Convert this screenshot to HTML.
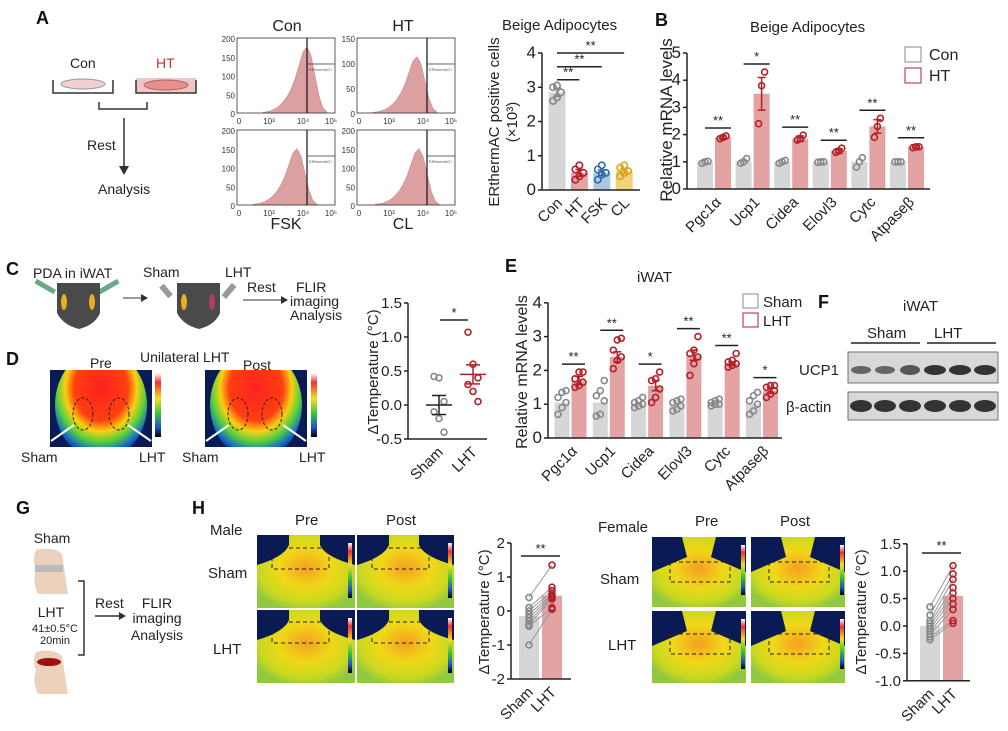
<!DOCTYPE html>
<html><head><meta charset="utf-8"><style>
html,body{margin:0;padding:0;background:#fff}
svg{display:block;font-family:"Liberation Sans",Arial,sans-serif}
</style></head><body>
<svg id="fig" width="1008" height="731" viewBox="0 0 1008 731" xmlns="http://www.w3.org/2000/svg">
<defs>
<radialGradient id="thermD" cx="50%" cy="35%" r="65%">
<stop offset="0" stop-color="#ff2020"/><stop offset="0.45" stop-color="#ff4010"/><stop offset="0.6" stop-color="#f8d010"/><stop offset="0.75" stop-color="#50d040"/><stop offset="0.9" stop-color="#1060d0"/><stop offset="1" stop-color="#0a1a55"/></radialGradient>
<linearGradient id="cbar" x1="0" y1="0" x2="0" y2="1">
<stop offset="0" stop-color="#fff"/><stop offset="0.15" stop-color="#f03030"/><stop offset="0.4" stop-color="#f0e020"/><stop offset="0.65" stop-color="#30c040"/><stop offset="0.85" stop-color="#2050d0"/><stop offset="1" stop-color="#000"/></linearGradient>
<radialGradient id="thermH" cx="50%" cy="45%" r="60%">
<stop offset="0" stop-color="#f5a020"/><stop offset="0.45" stop-color="#f0d818"/><stop offset="0.8" stop-color="#c8d820"/><stop offset="1" stop-color="#90c840"/></radialGradient>
<clipPath id="clipD1"><rect x="50" y="370" width="102" height="77"/></clipPath>
<clipPath id="clipD2"><rect x="205" y="370" width="102" height="77"/></clipPath>
</defs>
<g font-weight="bold" font-size="18" fill="#111">
<text x="36" y="24">A</text><text x="655" y="26">B</text><text x="6" y="275">C</text><text x="6" y="365">D</text>
<text x="505" y="272">E</text><text x="818" y="308">F</text><text x="16" y="514">G</text><text x="192" y="514">H</text></g>

<!-- Panel A scheme -->
<g font-size="14" fill="#222">
<text x="70" y="68">Con</text><text x="156" y="68" fill="#c0392b">HT</text>
<path d="M53 80 v13 h60 v-13" fill="none" stroke="#333" stroke-width="1.5"/><ellipse cx="83" cy="84" rx="22" ry="5" fill="#f2d0d0" stroke="#999"/>
<rect x="136" y="78" width="60" height="15" fill="#f4c4c4"/><path d="M136 80 v13 h60 v-13" fill="none" stroke="#333" stroke-width="1.5"/><ellipse cx="166" cy="85" rx="22" ry="5" fill="#e89090" stroke="#a66"/>
<path d="M99 102 v7 h48 v-7" fill="none" stroke="#333" stroke-width="1.5"/>
<line x1="124" y1="118" x2="124" y2="170" stroke="#333" stroke-width="1.5"/><path d="M119 166 l5 9 l5 -9z" fill="#333"/>
<text x="87" y="150">Rest</text><text x="98" y="194">Analysis</text></g>

<g id="flow"></g>
<g id="chartA"></g>
<g id="chartB"></g>

<!-- Panel C scheme -->
<g font-size="14" fill="#222">
<text x="33" y="278">PDA in iWAT</text>
<rect x="34" y="284" width="22" height="5" fill="#6a8" transform="rotate(30 45 287)"/>
<rect x="98" y="284" width="22" height="5" fill="#6a8" transform="rotate(-30 109 287)"/>
<path d="M57 283 h43 v30 q-5 12 -21 16 q-16 -4 -22 -16z" fill="#4a4a4a"/><ellipse cx="64" cy="302" rx="3" ry="8" fill="#e8b020"/><ellipse cx="92" cy="302" rx="3" ry="8" fill="#e8b020"/>
<line x1="123" y1="298" x2="143" y2="298" stroke="#333"/><path d="M141 294 l7 4 l-7 4z" fill="#333"/>
<text x="143" y="277">Sham</text><text x="225" y="277">LHT</text>
<rect x="163" y="284" width="6" height="14" fill="#999" transform="rotate(-40 166 291)"/>
<path d="M177 283 h43 v30 q-5 12 -21 16 q-16 -4 -22 -16z" fill="#4a4a4a"/><ellipse cx="184" cy="302" rx="3" ry="8" fill="#e8b020"/><ellipse cx="212" cy="302" rx="3" ry="8" fill="#b04060"/>
<rect x="226" y="283" width="6" height="16" fill="#999" transform="rotate(40 229 291)"/>
<line x1="243" y1="300" x2="283" y2="300" stroke="#333"/><path d="M281 296 l7 4 l-7 4z" fill="#333"/>
<text x="247" y="292">Rest</text><text x="296" y="292">FLIR</text><text x="290" y="306">imaging</text><text x="290" y="320">Analysis</text></g>

<!-- Panel D -->
<g font-size="14" fill="#222">
<text x="90" y="368">Pre</text><text x="140" y="362">Unilateral LHT</text><text x="243" y="370">Post</text>
<rect x="50" y="370" width="102" height="77" fill="#0a1a55"/><ellipse cx="101" cy="405" rx="46" ry="55" fill="url(#thermD)" clip-path="url(#clipD1)"/>
<rect x="155" y="373" width="6" height="64" fill="url(#cbar)"/>
<rect x="205" y="370" width="102" height="77" fill="#0a1a55"/><ellipse cx="256" cy="405" rx="46" ry="55" fill="url(#thermD)" clip-path="url(#clipD2)"/>
<rect x="311" y="373" width="6" height="64" fill="url(#cbar)"/>
<ellipse cx="83" cy="414" rx="10" ry="16" fill="none" stroke="#222" stroke-dasharray="3 2"/><ellipse cx="119" cy="414" rx="10" ry="16" fill="none" stroke="#222" stroke-dasharray="3 2"/>
<ellipse cx="238" cy="414" rx="10" ry="16" fill="none" stroke="#222" stroke-dasharray="3 2"/><ellipse cx="272" cy="414" rx="10" ry="16" fill="none" stroke="#222" stroke-dasharray="3 2"/>
<g stroke="#fff" stroke-width="2"><line x1="51" y1="441" x2="74" y2="425"/><line x1="151" y1="441" x2="128" y2="425"/><line x1="206" y1="441" x2="229" y2="425"/><line x1="306" y1="441" x2="283" y2="425"/></g>
<text x="21" y="462">Sham</text><text x="139" y="462">LHT</text><text x="182" y="462">Sham</text><text x="299" y="462">LHT</text></g>

<g id="chartC"></g>
<g id="chartE"></g>

<!-- Panel F -->
<g font-size="15" fill="#222">
<text x="903" y="311">iWAT</text><text x="867" y="338">Sham</text><text x="934" y="338">LHT</text>
<line x1="851" y1="343" x2="920" y2="343" stroke="#222" stroke-width="1.5"/><line x1="927" y1="343" x2="996" y2="343" stroke="#222" stroke-width="1.5"/>
<text x="799" y="375">UCP1</text><text x="786" y="412">β-actin</text>
<rect x="848" y="352" width="150" height="31" fill="#d8d8d8" stroke="#555" stroke-width="0.8"/><rect x="848" y="392" width="150" height="28" fill="#d8d8d8" stroke="#555" stroke-width="0.8"/>
<g fill="#333"><ellipse cx="861" cy="370" rx="10" ry="4" fill="#666"/><ellipse cx="885" cy="370" rx="10" ry="4" fill="#666"/><ellipse cx="910" cy="370" rx="10" ry="5" fill="#555"/>
<ellipse cx="935" cy="370" rx="11" ry="5"/><ellipse cx="960" cy="370" rx="11" ry="5"/><ellipse cx="985" cy="370" rx="11" ry="5"/>
<ellipse cx="861" cy="406" rx="11" ry="6"/><ellipse cx="885" cy="406" rx="11" ry="6"/><ellipse cx="910" cy="406" rx="11" ry="6"/><ellipse cx="935" cy="406" rx="11" ry="6"/><ellipse cx="960" cy="406" rx="11" ry="6"/><ellipse cx="985" cy="406" rx="11" ry="6"/></g></g>

<!-- Panel G -->
<g font-size="14" fill="#222">
<text x="52" y="543" text-anchor="middle">Sham</text>
<path d="M36 550 q18 -4 26 4 l6 40 h-30 q-6 -12 -2 -24 q-4 -10 0 -20z" fill="#ecd2bc"/><rect x="35" y="565" width="28" height="7" fill="#bbb"/>
<text x="51" y="617" text-anchor="middle">LHT</text><text x="55" y="632" font-size="11" text-anchor="middle">41±0.5°C</text><text x="55" y="644" font-size="11" text-anchor="middle">20min</text>
<path d="M36 652 q18 -4 26 4 l6 38 h-30 q-6 -12 -2 -24 q-4 -10 0 -18z" fill="#ecd2bc"/><ellipse cx="49" cy="662" rx="12" ry="4" fill="#a01010"/>
<path d="M78 581 h6 v74 h-6" fill="none" stroke="#333" stroke-width="1.5"/>
<line x1="95" y1="616" x2="121" y2="616" stroke="#333" stroke-width="1.5"/><path d="M119 612 l7 4 l-7 4z" fill="#333"/>
<text x="95" y="608">Rest</text><text x="157" y="608" text-anchor="middle">FLIR</text><text x="157" y="623" text-anchor="middle">imaging</text><text x="157" y="640" text-anchor="middle">Analysis</text></g>

<!-- Panel H images -->
<g font-size="15" fill="#222">
<text x="210" y="535">Male</text><text x="295" y="525">Pre</text><text x="386" y="525">Post</text>
<text x="208" y="578">Sham</text><text x="213" y="654">LHT</text>
<rect x="257" y="535" width="98" height="73" fill="url(#thermH)"/><rect x="357" y="535" width="97" height="73" fill="url(#thermH)"/>
<rect x="257" y="610" width="98" height="73" fill="url(#thermH)"/><rect x="357" y="610" width="97" height="73" fill="url(#thermH)"/>
<g fill="#0a1a55"><path d="M257 535 h32 v10 q-5 12 -32 20z"/><path d="M355 535 h-35 v10 q5 12 35 20z"/><path d="M357 535 h32 v10 q-5 12 -32 20z"/><path d="M454 535 h-35 v10 q5 12 35 20z"/>
<path d="M257 610 h32 v10 q-5 12 -32 20z"/><path d="M355 610 h-35 v10 q5 12 35 20z"/><path d="M357 610 h32 v10 q-5 12 -32 20z"/><path d="M454 610 h-35 v10 q5 12 35 20z"/></g>
<g fill="url(#cbar)"><rect x="348" y="543" width="4" height="55"/><rect x="448" y="543" width="4" height="55"/><rect x="348" y="618" width="4" height="55"/><rect x="448" y="618" width="4" height="55"/></g>
<text x="598" y="532">Female</text><text x="695" y="526">Pre</text><text x="780" y="526">Post</text>
<text x="600" y="584">Sham</text><text x="608" y="650">LHT</text>
<rect x="652" y="537" width="94" height="70" fill="url(#thermH)"/><rect x="751" y="537" width="94" height="70" fill="url(#thermH)"/>
<rect x="652" y="611" width="94" height="72" fill="url(#thermH)"/><rect x="751" y="611" width="94" height="72" fill="url(#thermH)"/>
<g fill="#0a1a55"><path d="M652 537 h30 l5 20 l-35 15z"/><path d="M746 537 h-30 l-5 20 l35 15z"/><path d="M751 537 h30 l5 20 l-35 15z"/><path d="M845 537 h-30 l-5 20 l35 15z"/>
<path d="M652 611 h30 l5 20 l-35 15z"/><path d="M746 611 h-30 l-5 20 l35 15z"/><path d="M751 611 h30 l5 20 l-35 15z"/><path d="M845 611 h-30 l-5 20 l35 15z"/></g>
<g fill="url(#cbar)"><rect x="741" y="545" width="4" height="50"/><rect x="840" y="545" width="4" height="50"/><rect x="741" y="619" width="4" height="50"/><rect x="840" y="619" width="4" height="50"/></g>
<g fill="none" stroke="#222" stroke-dasharray="4 3"><path d="M289 548 h40 v21 h-57 v-12"/><path d="M389 548 h40 v21 h-57 v-12"/>
<path d="M289 622 h40 v21 h-57 v-12"/><path d="M389 622 h40 v21 h-57 v-12"/>
<path d="M670 562 v20 h60 v-20 z"/><path d="M769 562 v20 h60 v-20 z"/><path d="M670 634 v20 h60 v-20 z"/><path d="M769 634 v20 h60 v-20 z"/></g></g>

<g id="chartHm"></g>
<g id="chartHf"></g>
</svg>
<script>
// ---- data ----
const flowCounts = [2,4,7,12,20,32,48,70,100,140,180,195,170,110,50,15,3];
const flowLabelsTop = ["Con","HT"];
const flowLabelsBottom = ["FSK","CL"];
const aCategories = ["Con","HT","FSK","CL"];
const aValues = [2.85,0.5,0.5,0.55];
const aErr = [0.12,0.1,0.08,0.07];
const aPoints = [[2.6,2.7,2.85,3.0,3.05],[0.3,0.4,0.5,0.6,0.72],[0.3,0.45,0.5,0.6,0.72],[0.4,0.5,0.55,0.65,0.72]];
const aTicks = [0,1,2,3,4];
const bGenes = ["Pgc1α","Ucp1","Cidea","Elovl3","Cytc","Atpaseβ"];
const bCon = [1,1,1,1,1,1];
const bHT = [1.9,3.5,1.85,1.4,2.3,1.55];
const bHTerr = [0.05,0.6,0.1,0.08,0.25,0.04];
const bConPts = [[0.95,1,1.02],[0.95,1,1.12],[0.95,1,1.05],[0.98,1,1],[0.8,1,1.15],[1,1,1]];
const bHTPts = [[1.85,1.9,1.95],[2.4,3.8,4.3],[1.8,1.85,1.98],[1.35,1.4,1.5],[1.9,2.3,2.6],[1.52,1.55,1.55]];
const bSig = ["**","*","**","**","**","**"];
const bTicks = [0,1,2,3,4,5];
const cSham = [0.42,0.4,0.05,-0.1,-0.2,-0.4];
const cLHT = [1.07,0.6,0.4,0.3,0.2,0.05];
const cMeans = [0.0,0.45];
const cErr = [0.14,0.14];
const cTicks = [-0.5,0,0.5,1,1.5];
const eGenes = ["Pgc1α","Ucp1","Cidea","Elovl3","Cytc","Atpaseβ"];
const eSham = [1.05,1.05,1.02,1.0,1.02,1.02];
const eLHT = [1.7,2.4,1.55,2.45,2.2,1.4];
const eLHTerr = [0.12,0.15,0.15,0.15,0.05,0.08];
const eShamPts = [[0.7,0.9,1.05,1.2,1.35,1.4],[0.65,0.7,1.1,1.25,1.4,1.7],[0.9,0.95,1.0,1.05,1.1,1.2],[0.8,0.85,0.95,1.05,1.1,1.15],[0.95,1,1,1.05,1.1,1.15],[0.7,0.8,1,1.1,1.25,1.35]];
const eLHTPts = [[1.5,1.55,1.65,1.75,1.95,1.95],[2.05,2.3,2.4,2.6,2.9,2.95],[1.05,1.2,1.45,1.7,1.75,1.95],[1.85,2.2,2.4,2.5,2.6,3.0],[2.1,2.15,2.2,2.25,2.3,2.5],[1.2,1.3,1.4,1.5,1.55,1.55]];
const eSig = ["**","**","*","**","**","*"];
const eTicks = [0,1,2,3,4];
const hmMeans = [-0.15,0.45];
const hmSham = [0.4,0.1,0.0,-0.1,-0.2,-0.3,-0.4,-0.45,-1.0];
const hmLHT = [1.35,0.7,0.6,0.5,0.45,0.4,0.35,0.1,0.05];
const hmTicks = [-2,-1,0,1,2];
const hfMeans = [0.0,0.55];
const hfSham = [0.35,0.2,0.1,0.05,0.0,-0.05,-0.1,-0.15,-0.2,-0.25];
const hfLHT = [1.1,0.95,0.85,0.7,0.6,0.5,0.4,0.3,0.1,0.05];
const hfTicks = [-1,-0.5,0,0.5,1,1.5];

const NS="http://www.w3.org/2000/svg";
function el(tag,attrs,parent,txt){const e=document.createElementNS(NS,tag);for(const k in attrs)e.setAttribute(k,attrs[k]);if(txt!==undefined)e.textContent=txt;parent.appendChild(e);return e;}
const GREY="#d6d6d6",PINK="#e3a3a3",RED="#b22028",DG="#888";

function axisY(g,x,yScale,ticks,fmt,fs){
  const yTop=yScale(ticks[ticks.length-1]),yBot=yScale(ticks[0]);
  const a=el('line',{x1:x,y1:yTop,x2:x,y2:yBot,stroke:'#222','stroke-width':1.5},g);
  
  
  ticks.forEach(t=>{const y=yScale(t);el('line',{x1:x-4,y1:y,x2:x,y2:y,stroke:'#222','stroke-width':1.5},g);
    const tx=el('text',{x:x-6,y:y+5,'text-anchor':'end','font-size':fs||15,fill:'#222'},g,fmt?fmt(t):t);
    
    });
}
function xAxis(g,x1,x2,y){const a=el('line',{x1:x1,y1:y,x2:x2,y2:y,stroke:'#222','stroke-width':1.5},g);
  
  }
function rotLabel(g,x,y,t,fs){const e=el('text',{x:x,y:y,'text-anchor':'end','font-size':fs||15,fill:'#222',transform:`rotate(-45 ${x} ${y})`},g,t);
  
  }
function yTitle(g,x,y,lines,fs){lines.forEach((l,i)=>{const e=el('text',{x:x+i*18,y:y,'text-anchor':'middle','font-size':fs||15,fill:'#222',transform:`rotate(-90 ${x+i*18} ${y})`},g,l);
  
  });}
function bar(g,cx,w,y0,y1,fill,name){const r=el('rect',{x:cx-w/2,y:Math.min(y0,y1),width:w,height:Math.abs(y0-y1),fill:fill},g);
  
  }
function pts(g,cx,vals,ys,col,spread,r){vals.forEach((v,i)=>{const off=((i%3)-1)*spread;const c=el('circle',{cx:cx+off,cy:ys(v),r:r||3,fill:'none',stroke:col,'stroke-width':1.6},g);
  
  });}
function errb(g,cx,m,e,ys,col,w){el('line',{x1:cx,y1:ys(m-e),x2:cx,y2:ys(m+e),stroke:col,'stroke-width':1.5},g);
  [m-e,m+e].forEach(v=>el('line',{x1:cx-w,y1:ys(v),x2:cx+w,y2:ys(v),stroke:col,'stroke-width':1.5},g));}
function sig(g,x1,x2,y,t){el('line',{x1:x1,y1:y,x2:x2,y2:y,stroke:'#222','stroke-width':1.5},g);
  const s=el('text',{x:(x1+x2)/2,y:y-3,'text-anchor':'middle','font-size':13,fill:'#222'},g,t);
  
  }

// ---- Flow histograms ----
(function(){const g=document.getElementById('flow');
  const boxes=[[237,38],[357,38],[237,130],[357,130]];
  const peakX=[70,60,60,62];
  el('text',{x:287,y:31,'font-size':16,fill:'#222','text-anchor':'middle'},g,flowLabelsTop[0]);
  el('text',{x:403,y:31,'font-size':16,fill:'#222','text-anchor':'middle'},g,flowLabelsTop[1]);
  el('text',{x:286,y:229,'font-size':16,fill:'#222','text-anchor':'middle'},g,flowLabelsBottom[0]);
  el('text',{x:403,y:229,'font-size':16,fill:'#222','text-anchor':'middle'},g,flowLabelsBottom[1]);
  const maxC=Math.max(...flowCounts);
  boxes.forEach((b,bi)=>{const [x,y]=b,w=98,h=75;
    const yl=bi===1?[150,100,50,0]:[200,150,100,50,0];
    yl.forEach((t,i)=>el('text',{x:x-2,y:y+4+i*(h/(yl.length-1)),'text-anchor':'end','font-size':8,fill:'#333'},g,t));
    ["0","10³","10⁴","10⁵"].forEach((t,i)=>el('text',{x:x+2+[0,30,64,92][i],y:y+h+11,'text-anchor':'middle','font-size':8,fill:'#333'},g,t));
    const sc=bi===0?0.88:0.75;
    const step=4, start=x+peakX[bi]-11*step;
    let d=`M${start} ${y+h}`;
    flowCounts.forEach((c,i)=>{d+=` L${start+i*step} ${y+h-c/maxC*h*sc}`;});
    d+=` L${start+(flowCounts.length-1)*step} ${y+h} Z`;
    const p=el('path',{d:d,fill:'#dca0a0',stroke:'#c88',"stroke-width":0.6},g);
    
    
    el('rect',{x:x,y:y,width:w,height:h,fill:'none',stroke:'#333','stroke-width':0.8},g);
    el('line',{x1:x+70,y1:y,x2:x+70,y2:y+h,stroke:'#111','stroke-width':1.2},g);
    el('polyline',{points:`${x+70},${y+26} ${x+w},${y+26}`,fill:'none',stroke:'#333','stroke-width':0.8},g);
    el('text',{x:x+72,y:y+33,'font-size':4,fill:'#555'},g,'ERthermAC+');
  });})();

// ---- Chart A ----
(function(){const g=document.getElementById('chartA');
  const ys=v=>190-v*34.25, xs=i=>557+i*22.4;
  el('text',{x:502,y:30,'font-size':15,fill:'#222'},g,'Beige Adipocytes');
  yTitle(g,499,122,['ERthermAC positive cells','(×10³)'],15);
  const cols=[GREY,PINK,'#a8c8e4','#f2d27a'],pc=[DG,RED,'#2e6da4','#d9a520'];
  aCategories.forEach((c,i)=>{bar(g,xs(i),17,ys(0),ys(aValues[i]),cols[i],'bar-'+c.toLowerCase());
    pts(g,xs(i),aPoints[i],ys,pc[i],4,3.2);errb(g,xs(i),aValues[i],aErr[i],ys,pc[i],4);
    rotLabel(g,xs(i)+6,ys(0)+14,c,15);});
  axisY(g,542,ys,aTicks,null,17);xAxis(g,542,640,ys(0));
  sig(g,xs(0),xs(1),ys(3.22),'**');sig(g,xs(0),xs(2),ys(3.6),'**');sig(g,xs(0),xs(3),ys(4.0),'**');})();

// ---- Chart B ----
(function(){const g=document.getElementById('chartB');
  const ys=v=>189-v*27.2, xs=i=>714+i*38.6;
  el('text',{x:750,y:32,'font-size':15,fill:'#222'},g,'Beige Adipocytes');
  yTitle(g,672,120,['Relative mRNA levels'],17);
  bGenes.forEach((gn,i)=>{const c=xs(i)-9,h=xs(i)+9;
    bar(g,c,16,ys(0),ys(bCon[i]),GREY,'bar-con-'+i);bar(g,h,16,ys(0),ys(bHT[i]),PINK,'bar-ht-'+i);
    pts(g,c,bConPts[i],ys,DG,3,3);pts(g,h,bHTPts[i],ys,RED,3,3);errb(g,h,bHT[i],bHTerr[i],ys,RED,4);
    const top=Math.max(...bHTPts[i],bHT[i]+bHTerr[i]);sig(g,c,h+8,ys(top)-8,bSig[i]);
    rotLabel(g,xs(i)+8,ys(0)+14,gn,15);});
  axisY(g,687,ys,bTicks,null,17);xAxis(g,687,930,ys(0));
  const l=el('g',{},g);
  el('rect',{x:905,y:47,width:16,height:15,fill:'#fff',stroke:DG},l);el('text',{x:929,y:60,'font-size':16,fill:'#222'},l,'Con');
  el('rect',{x:905,y:68,width:16,height:15,fill:'#fff',stroke:RED},l);el('text',{x:929,y:81,'font-size':16,fill:'#222'},l,'HT');})();

// ---- Chart C ----
(function(){const g=document.getElementById('chartC');
  const ys=v=>405-v*68, xs=[439,473];
  yTitle(g,378,372,['ΔTemperature (°C)'],15);
  pts(g,xs[0],cSham,ys,DG,5,3);pts(g,xs[1],cLHT,ys,RED,5,3);
  [0,1].forEach(i=>{const col=i?RED:'#222';el('line',{x1:xs[i]-13,y1:ys(cMeans[i]),x2:xs[i]+13,y2:ys(cMeans[i]),stroke:col,'stroke-width':1.5},g);errb(g,xs[i],cMeans[i],cErr[i],ys,col,7);});
  axisY(g,408,ys,cTicks,v=>v.toFixed(1),15);xAxis(g,408,487,ys(-0.5));
  sig(g,440,468,ys(1.25),'*');
  rotLabel(g,xs[0]+5,ys(-0.5)+14,'Sham',15);rotLabel(g,xs[1]+5,ys(-0.5)+14,'LHT',15);})();

// ---- Chart E ----
(function(){const g=document.getElementById('chartE');
  const ys=v=>438-v*33.8, xs=i=>570+i*38.3;
  el('text',{x:637,y:282,'font-size':15,fill:'#222'},g,'iWAT');
  yTitle(g,527,372,['Relative mRNA levels'],16);
  eGenes.forEach((gn,i)=>{const c=xs(i)-8,h=xs(i)+9;
    bar(g,c,15,ys(0),ys(eSham[i]),GREY,'bar-sham-'+i);bar(g,h,15,ys(0),ys(eLHT[i]),PINK,'bar-lht-'+i);
    pts(g,c,eShamPts[i],ys,DG,4,3);pts(g,h,eLHTPts[i],ys,RED,4,3);errb(g,h,eLHT[i],eLHTerr[i],ys,RED,4);
    const top=Math.max(...eLHTPts[i]);sig(g,c,h+6,ys(top)-8,eSig[i]);
    rotLabel(g,xs(i)+8,ys(0)+14,gn,15);});
  axisY(g,548,ys,eTicks,null,17);xAxis(g,548,782,ys(0));
  const l=el('g',{},g);
  el('rect',{x:743,y:294,width:15,height:14,fill:'#fff',stroke:DG},l);el('text',{x:763,y:307,'font-size':15,fill:'#222'},l,'Sham');
  el('rect',{x:743,y:313,width:15,height:14,fill:'#fff',stroke:RED},l);el('text',{x:763,y:326,'font-size':15,fill:'#222'},l,'LHT');})();

// ---- Paired charts H ----
function paired(id,ys,yAxisX,xEnd,xs,means,sh,lh,ticks,fmt,sigY,titleX){const g=document.getElementById(id);
  yTitle(g,titleX,612,['ΔTemperature (°C)'],15);
  const y0=ys(ticks[0]);
  bar(g,xs[0],20,y0,ys(means[0]),GREY,'bar-sham');bar(g,xs[1],20,y0,ys(means[1]),PINK,'bar-lht');
  sh.forEach((v,i)=>el('line',{x1:xs[0],y1:ys(v),x2:xs[1],y2:ys(lh[i]),stroke:'#999','stroke-width':1},g));
  pts(g,xs[0],sh,ys,DG,0,3);pts(g,xs[1],lh,ys,RED,0,3);
  axisY(g,yAxisX,ys,ticks,fmt,15);xAxis(g,yAxisX,xEnd,y0);
  sig(g,xs[0]-8,xs[1]+8,sigY,'**');
  rotLabel(g,xs[0]+5,y0+14,'Sham',15);rotLabel(g,xs[1]+5,y0+14,'LHT',15);}
paired('chartHm',v=>611-v*34,511,571,[529,552],hmMeans,hmSham,hmLHT,hmTicks,null,556,489);
paired('chartHf',v=>626-v*54.8,907,970,[930,953],hfMeans,hfSham,hfLHT,hfTicks,v=>v.toFixed(1),553,866);
</script>
</body></html>
